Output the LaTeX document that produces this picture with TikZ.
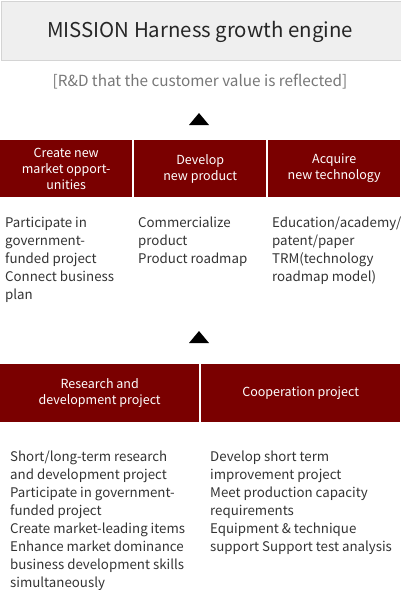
\documentclass[tikz,border=0pt]{standalone}
\usepackage{fontspec}
\setmainfont{Noto Sans CJK KR}
\definecolor{boxred}{HTML}{7A0000}
\definecolor{headfill}{HTML}{EFEFEF}
\definecolor{headline}{HTML}{D4D4D4}
\definecolor{bodytext}{HTML}{333333}
\definecolor{subtext}{HTML}{777777}
\tikzset{
  redbox/.style={fill=boxred, text=white, anchor=north west, inner sep=0pt, align=center,
    font=\fontsize{12.5}{16}\selectfont},
  bodytxt/.style={anchor=north west, inner sep=0pt, align=left, text=bodytext,
    font=\fontsize{13.3}{18}\selectfont},
  uptri/.style={fill=black}
}
\begin{document}
\begin{tikzpicture}[x=1pt,y=-1pt]
\useasboundingbox (0,0) rectangle (401,590);
% title
\node[draw=headline, line width=1pt, fill=headfill, anchor=north west, minimum width=400, minimum height=59, inner sep=0pt] (title) at (0.5,0.5) {};
\node[font=\fontsize{20.4}{24}\selectfont, text=black!85] (titletext) at (200,32) {MISSION Harness growth engine};
\node[text=subtext, font=\fontsize{15.3}{18}\selectfont] (sub) at (200,82) {[R\&D that the customer value is reflected]};
% triangle 1
\fill[uptri] (189,125) -- (199,113) -- (209,125) -- cycle;
% row 1 boxes
\node[redbox, minimum width=132, minimum height=57] (b1) at (0,140) {Create new\\market opport-\\unities};
\node[redbox, minimum width=132, minimum height=57] (b2) at (134,140) {Develop\\new product};
\node[redbox, minimum width=132, minimum height=57] (b3) at (268,140) {Acquire\\new technology};
% row 1 bodies
\node[bodytxt] (c1) at (5,217) {Participate in\\government-\\funded project\\Connect business\\plan};
\node[bodytxt] (c2) at (138,217) {Commercialize\\product\\Product roadmap};
\node[bodytxt] (c3) at (272,217) {Education/academy/\\patent/paper\\TRM(technology\\roadmap model)};
% triangle 2
\fill[uptri] (189,343) -- (199,331) -- (209,343) -- cycle;
% row 2 boxes
\node[redbox, minimum width=199, minimum height=58] (d1) at (0,364) {Research and\\development project};
\node[redbox, minimum width=199, minimum height=58] (d2) at (201,364) {Cooperation project};
% row 2 bodies
\node[bodytxt] (e1) at (10,451) {Short/long-term research\\and development project\\Participate in government-\\funded project\\Create market-leading items\\Enhance market dominance\\business development skills\\simultaneously};
\node[bodytxt] (e2) at (210,451) {Develop short term\\improvement project\\Meet production capacity\\requirements\\Equipment \& technique\\support Support test analysis};
\end{tikzpicture}
\end{document}
